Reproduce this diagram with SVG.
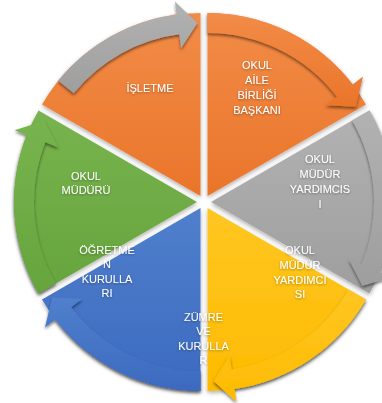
<svg xmlns="http://www.w3.org/2000/svg" width="382" height="403" viewBox="0 0 382 403">
<defs>
<linearGradient id="gO" x1="0" y1="0" x2="0" y2="1"><stop offset="0" stop-color="#F28C48"/><stop offset="1" stop-color="#EA752A"/></linearGradient>
<linearGradient id="gG" x1="0" y1="0" x2="0" y2="1"><stop offset="0" stop-color="#B2B2B2"/><stop offset="1" stop-color="#9E9E9E"/></linearGradient>
<linearGradient id="gY" x1="0" y1="0" x2="0" y2="1"><stop offset="0" stop-color="#FFC623"/><stop offset="1" stop-color="#FDBB00"/></linearGradient>
<linearGradient id="gB" x1="0" y1="0" x2="0" y2="1"><stop offset="0" stop-color="#507FCD"/><stop offset="1" stop-color="#3C6ABF"/></linearGradient>
<linearGradient id="gN" x1="0" y1="0" x2="0" y2="1"><stop offset="0" stop-color="#78B44E"/><stop offset="1" stop-color="#66A43D"/></linearGradient>
<filter id="sh" x="-20%" y="-20%" width="140%" height="140%"><feDropShadow dx="0" dy="2" stdDeviation="2" flood-color="#000" flood-opacity="0.32"/></filter>
<filter id="ash" x="-20%" y="-20%" width="140%" height="140%"><feDropShadow dx="0" dy="2" stdDeviation="1.8" flood-color="#000" flood-opacity="0.5"/></filter>
<filter id="tsh" x="-20%" y="-20%" width="140%" height="140%"><feDropShadow dx="0" dy="1" stdDeviation="1" flood-color="#000" flood-opacity="0.35"/></filter>
</defs>
<style>
.w{filter:url(#sh)}
.a{filter:url(#ash)}
#labels{filter:url(#tsh)}
text{font-family:"Liberation Sans",Arial,sans-serif;font-size:11px;fill:#fff;text-anchor:middle}
</style>
<g id="node-isletme" transform="translate(200.5,195.94)">
<path class="w" fill="url(#gO)" d="M0,0 L-158.48,-91.5 A183,183 0 0 1 0,-183 Z"/>
</g>
<g id="node-okul-aile" transform="translate(207.5,195.94)">
<path class="w" fill="url(#gO)" d="M0,0 L0,-183 A183,183 0 0 1 158.48,-91.5 Z"/>
</g>
<g id="node-okul-mudur-yardimcisi-1" transform="translate(211,202)">
<path class="w" fill="url(#gG)" d="M0,0 L158.48,-91.5 A183,183 0 0 1 158.48,91.5 Z"/>
</g>
<g id="node-okul-mudur-yardimcisi-2" transform="translate(207.5,208.06)">
<path class="w" fill="url(#gY)" d="M0,0 L158.48,91.5 A183,183 0 0 1 0,183 Z"/>
</g>
<g id="node-zumre" transform="translate(200.5,208.06)">
<path class="w" fill="url(#gB)" d="M0,0 L0,183 A183,183 0 0 1 -158.48,91.5 Z"/>
</g>
<g id="node-ogretmen" transform="translate(197,202)">
<path class="w" fill="url(#gN)" d="M0,0 L-158.48,91.5 A183,183 0 0 1 -158.48,-91.5 Z"/>
</g>
<g id="connectors">
<path class="a" fill="url(#gO)" transform="translate(207.5,195.94)" d="M0,-183 A183,183 0 0 1 145.18,-111.40 L155.50,-119.32 L148.29,-89.10 L118.21,-90.71 L129.32,-99.23 A163,163 0 0 0 0,-163 Z"/>
<path class="a" fill="url(#gG)" transform="translate(211,202)" d="M158.48,-91.5 A183,183 0 0 1 169.07,70.03 L181.08,75.01 L151.31,83.87 L137.66,57.02 L150.59,62.38 A163,163 0 0 0 141.16,-81.5 Z"/>
<path class="a" fill="url(#gY)" transform="translate(207.5,208.06)" d="M158.48,91.5 A183,183 0 0 1 27.05,180.99 L28.97,193.85 L6.04,172.89 L22.02,147.36 L24.09,161.21 A163,163 0 0 0 141.16,81.5 Z"/>
<path class="a" fill="url(#gB)" transform="translate(200.5,208.06)" d="M0,183 A183,183 0 0 1 -145.18,111.40 L-155.50,119.32 L-148.29,89.10 L-118.21,90.71 L-129.32,99.23 A163,163 0 0 0 0,163 Z"/>
<path class="a" fill="url(#gN)" transform="translate(197,202)" d="M-158.48,91.5 A183,183 0 0 1 -170.27,-67.07 L-182.36,-71.83 L-152.75,-81.22 L-138.63,-54.61 L-151.66,-59.74 A163,163 0 0 0 -141.16,81.5 Z"/>
<path class="a" fill="url(#gG)" transform="translate(200.5,195.94)" d="M-142.22,-115.17 A183,183 0 0 1 -23.89,-181.43 L-25.58,-194.32 L-3.02,-172.97 L-19.45,-147.72 L-21.28,-161.60 A163,163 0 0 0 -126.68,-102.58 Z"/>
</g>
<g id="labels">
<text x="150" y="92">İŞLETME</text>
<text x="257" y="69">OKUL</text>
<text x="257" y="84">AİLE</text>
<text x="257" y="99">BİRLİĞİ</text>
<text x="257" y="113.5">BAŞKANI</text>
<text x="320" y="163">OKUL</text>
<text x="320" y="178">MÜDÜR</text>
<text x="320" y="193">YARDIMCIS</text>
<text x="320" y="208">I</text>
<text x="300" y="254">OKUL</text>
<text x="300" y="269">MÜDÜR</text>
<text x="300" y="283.5">YARDIMCI</text>
<text x="300" y="298">SI</text>
<text x="203.5" y="321">ZÜMRE</text>
<text x="203.5" y="335">VE</text>
<text x="203.5" y="349.5">KURULLA</text>
<text x="203.5" y="364">R</text>
<text x="107" y="254">ÖĞRETME</text>
<text x="107" y="268">N</text>
<text x="107" y="283">KURULLA</text>
<text x="107" y="297">RI</text>
<text x="86" y="180">OKUL</text>
<text x="86" y="194">MÜDÜRÜ</text>
</g>
</svg>
